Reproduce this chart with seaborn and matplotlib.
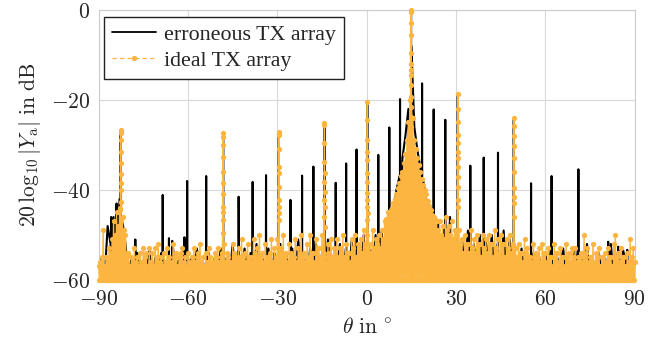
import numpy as np
import matplotlib
matplotlib.use("Agg")
import matplotlib.pyplot as plt
import seaborn as sns
from matplotlib.ticker import FixedLocator, FixedFormatter

# ---------------- data ----------------
# ideal TX array: local side-lobe maxima, every 0.5 deg from -90 to 90
ideal_floor_db = [
    -57, -56, -55, -49, -57, -55, -56, -53, -54, -51, -47, -50, -45, -48, -44, -47, -46, -49, -50, -54,
    -54, -57, -55, -56, -53, -56, -55, -57, -54, -56, -53, -55, -54, -57, -53, -56, -54, -57, -53, -55,
    -52, -56, -55, -57, -54, -56, -53, -55, -56, -57, -52, -55, -54, -57, -55, -54, -53, -56, -55, -57,
    -54, -56, -57, -55, -53, -56, -55, -54, -52, -56, -55, -57, -54, -56, -53, -55, -56, -57, -54, -55,
    -53, -56, -55, -54, -52, -56, -54, -55, -56, -57, -52, -54, -55, -56, -53, -55, -51, -55, -54, -56,
    -52, -55, -55, -56, -51, -54, -53, -55, -50, -55, -54, -56, -52, -55, -55, -54, -51, -56, -53, -55,
    -51, -55, -53, -54, -50, -55, -54, -56, -52, -54, -55, -55, -51, -56, -53, -54, -50, -55, -54, -56,
    -52, -55, -50, -54, -54, -56, -51, -53, -53, -55, -50, -54, -55, -56, -52, -54, -51, -55, -53, -54,
    -51, -55, -53, -54, -50, -55, -52, -54, -54, -56, -51, -53, -50, -55, -52, -53, -51, -54, -49, -52,
    -50, -53, -52, -54, -49, -53, -51, -52, -50, -53, -49, -51, -47, -46.5, -45, -46, -44.5, -44, -43, -42,
    -41, -39.5, -38.5, -37, -36, -34, -32, -29, -25, -20, -12, -24, -29, -31, -33, -34.5, -36, -37.5, -39, -40,
    -41, -42.5, -43.5, -44.5, -45.5, -46, -46.5, -47, -49, -47, -50, -48, -51, -46, -49, -48, -50, -47, -51, -49,
    -50, -53, -49, -52, -51, -54, -50, -52, -52, -54, -49, -53, -51, -54, -50, -52, -52, -55, -50, -53,
    -51, -54, -50, -52, -52, -55, -49, -53, -51, -54, -50, -52, -52, -55, -51, -53, -50, -54, -52, -53,
    -53, -55, -52, -54, -54, -56, -51, -54, -53, -55, -55, -56, -52, -55, -54, -55, -53, -56, -52, -54,
    -54, -56, -53, -55, -55, -57, -52, -54, -54, -56, -53, -55, -55, -57, -52, -55, -54, -56, -53, -55,
    -53, -56, -55, -55, -54, -56, -50, -54, -53, -56, -55, -55, -52, -56, -54, -55, -53, -57, -55, -55,
    -54, -56, -53, -55, -55, -57, -52, -50, -55, -54, -56, -53, -55, -55, -57, -54, -56, -51, -55, -53,
    -56,
]
ideal_floor_theta = np.linspace(-90, 90, len(ideal_floor_db))

# ideal TX array: nulls between the side lobes (-89.75 .. 89.75 deg); they all fall
# below the -60 dB floor of the axis, so they are read as -60 dB
ideal_null_db = [
    -60, -60, -60, -60, -60, -60, -60, -60, -60, -60, -60, -60, -60, -60, -60, -60, -60, -60, -60, -60,
    -60, -60, -60, -60, -60, -60, -60, -60, -60, -60, -60, -60, -60, -60, -60, -60, -60, -60, -60, -60,
    -60, -60, -60, -60, -60, -60, -60, -60, -60, -60, -60, -60, -60, -60, -60, -60, -60, -60, -60, -60,
    -60, -60, -60, -60, -60, -60, -60, -60, -60, -60, -60, -60, -60, -60, -60, -60, -60, -60, -60, -60,
    -60, -60, -60, -60, -60, -60, -60, -60, -60, -60, -60, -60, -60, -60, -60, -60, -60, -60, -60, -60,
    -60, -60, -60, -60, -60, -60, -60, -60, -60, -60, -60, -60, -60, -60, -60, -60, -60, -60, -60, -60,
    -60, -60, -60, -60, -60, -60, -60, -60, -60, -60, -60, -60, -60, -60, -60, -60, -60, -60, -60, -60,
    -60, -60, -60, -60, -60, -60, -60, -60, -60, -60, -60, -60, -60, -60, -60, -60, -60, -60, -60, -60,
    -60, -60, -60, -60, -60, -60, -60, -60, -60, -60, -60, -60, -60, -60, -60, -60, -60, -60, -60, -60,
    -60, -60, -60, -60, -60, -60, -60, -60, -60, -60, -60, -60, -60, -60, -60, -60, -60, -60, -60, -60,
    -60, -60, -60, -60, -60, -60, -60, -60, -60, -60, -60, -60, -60, -60, -60, -60, -60, -60, -60, -60,
    -60, -60, -60, -60, -60, -60, -60, -60, -60, -60, -60, -60, -60, -60, -60, -60, -60, -60, -60, -60,
    -60, -60, -60, -60, -60, -60, -60, -60, -60, -60, -60, -60, -60, -60, -60, -60, -60, -60, -60, -60,
    -60, -60, -60, -60, -60, -60, -60, -60, -60, -60, -60, -60, -60, -60, -60, -60, -60, -60, -60, -60,
    -60, -60, -60, -60, -60, -60, -60, -60, -60, -60, -60, -60, -60, -60, -60, -60, -60, -60, -60, -60,
    -60, -60, -60, -60, -60, -60, -60, -60, -60, -60, -60, -60, -60, -60, -60, -60, -60, -60, -60, -60,
    -60, -60, -60, -60, -60, -60, -60, -60, -60, -60, -60, -60, -60, -60, -60, -60, -60, -60, -60, -60,
    -60, -60, -60, -60, -60, -60, -60, -60, -60, -60, -60, -60, -60, -60, -60, -60, -60, -60, -60, -60,
]
ideal_null_theta = np.linspace(-89.75, 89.75, len(ideal_null_db))

# ideal TX array: lobes (peak angle, samples along the spike from top down)
ideal_peak_theta = [-82.6, -48.2, -29.5, -14.2, 0.2, 14.9, 30.6, 49.4]
ideal_spike_db = [
    [-26.7, -27.3, -29.0, -31.5, -34.0, -36.5, -38.4, -40.0, -42.7, -44.4],
    [-27.4, -28.2, -30.0, -32.7, -36.0, -38.5, -41.0, -43.8, -45.0, -46.7, -49.6],
    [-27.1, -27.8, -31.0, -34.9, -36.2, -39.3, -42.2, -43.8, -45.1, -46.7],
    [-25.2, -25.6, -29.5, -33.7, -36.2, -38.2, -40.4, -42.2, -43.8, -46.0, -48.2],
    [-20.5, -24.5, -28.9, -31.5, -33.3, -36.2, -38.2, -40.7, -42.2, -43.8, -45.1, -46.7],
    [0.0, -0.4, -3.0, -5.6, -9.5, -13.3, -14.4, -16.7, -19.3, -21.5, -23.7, -25.9],
    [-18.7, -22.0, -25.0, -27.8, -29.6, -31.6, -32.9, -34.9, -37.1, -39.3, -42.2, -43.8],
    [-23.9, -25.8, -28.0, -30.2, -33.0, -36.1, -39.6, -41.5, -43.0, -46.0],
]

# erroneous TX array: floor sampled every 1 deg from -90 to 90
err_floor_db = [
    -58, -55, -60, -48, -52, -46, -44, -42, -47, -52,
    -60, -55, -59, -54, -60, -56, -58, -53, -60, -55,
    -58, -54, -60, -56, -59, -53, -60, -55, -58, -54,
    -60, -55, -58, -53, -60, -56, -59, -54, -60, -55,
    -58, -53, -60, -55, -59, -52, -60, -54, -58, -53,
    -60, -54, -59, -52, -60, -55, -58, -53, -60, -54,
    -58, -52, -60, -54, -59, -53, -60, -51, -58, -55,
    -60, -53, -59, -52, -60, -54, -58, -51, -60, -55,
    -58, -52, -60, -53, -59, -51, -60, -54, -58, -50,
    -60, -52, -58, -50, -60, -49, -57, -47, -59, -45,
    -40, -37, -33, -28, -22, -8, -26, -31, -35, -38,
    -42, -44, -46, -58, -47, -60, -48, -59, -46, -60,
    -50, -60, -51, -58, -49, -60, -52, -59, -50, -60,
    -51, -58, -50, -60, -52, -59, -49, -60, -51, -58,
    -55, -60, -53, -59, -56, -60, -54, -58, -55, -60,
    -54, -59, -52, -60, -55, -58, -53, -60, -56, -59,
    -53, -60, -55, -58, -52, -60, -56, -59, -54, -60,
    -55, -58, -52, -60, -54, -59, -53, -56, -60, -57,
    -59,
]
err_floor_theta = np.linspace(-90, 90, len(err_floor_db))

# erroneous TX array: spurious lobes (angle, peak level) and their base level
err_spike_theta = [-85.8, -84.0, -82.6, -77.7, -68.5, -66.4, -65.3, -61.2, -60.3, -53.9,
                   -48.2, -43.0, -38.3, -33.8, -29.5, -25.6, -21.7, -17.9, -14.2, -10.4,
                   -6.9, -3.4, 0.2, 3.9, 7.6, 11.2, 14.9, 18.6, 22.5, 26.4,
                   30.6, 34.8, 39.3, 44.1, 49.4, 55.2, 62.1, 71.1, 81.1, 84.5, 87.5]
err_spike_db = [-46, -43, -27, -51, -41.1, -50.7, -51.3, -50.5, -38, -36.9,
                -27.6, -41.5, -38.2, -36.7, -27.4, -42.2, -36.8, -34.8, -25.5, -38.4,
                -34.1, -31, -20.8, -32.2, -26.1, -19.8, 0, -16.3, -22.1, -24.4,
                -19, -34.6, -32.8, -31.7, -24.3, -38.5, -36.9, -35.4, -51.5, -52.6, -53.3]
err_spike_base = -58

x_ticks = [-90, -60, -30, 0, 30, 60, 90]
x_tick_labels = [r"$-90$", r"$-60$", r"$-30$", r"$0$", r"$30$", r"$60$", r"$90$"]
y_ticks = [-60, -40, -20, 0]
y_tick_labels = [r"$-60$", r"$-40$", r"$-20$", r"$0$"]

# ---------------- assemble sorted series ----------------
def spike_samples(p, vals, dx):
    xs, ys = [p], [vals[0]]
    for k, v in enumerate(vals[1:], start=1):
        side = -1 if k % 2 else 1
        xs.append(p + side * dx * k)
        ys.append(v)
    return xs, ys

ix = list(ideal_floor_theta) + list(ideal_null_theta)
iy = list(ideal_floor_db) + list(ideal_null_db)
for p, vals in zip(ideal_peak_theta, ideal_spike_db):
    xs, ys = spike_samples(p, vals, 0.009)
    ix += xs
    iy += ys
ix = np.array(ix); iy = np.array(iy)
o = np.argsort(ix, kind="stable")
ix, iy = ix[o], iy[o]

ex = list(err_floor_theta)
ey = list(err_floor_db)
for p, v in zip(err_spike_theta, err_spike_db):
    ex += [p - 0.05, p, p + 0.05]
    ey += [err_spike_base, v, err_spike_base]
ex = np.array(ex); ey = np.array(ey)
o = np.argsort(ex, kind="stable")
ex, ey = ex[o], ey[o]

# ---------------- plotting ----------------
sns.set_style("white")
plt.rcParams["mathtext.fontset"] = "cm"
plt.rcParams["font.family"] = ["DejaVu Serif"]

ORANGE = "#FBB540"
GRID = "#d9d9d9"
DASH = (0, (3.5, 2.5))

fig, ax = plt.subplots(figsize=(6.65, 3.41), dpi=100)
fig.subplots_adjust(left=0.1484, right=0.9544, top=0.9707, bottom=0.1789)

sns.lineplot(x=ex, y=ey, ax=ax, color="black", lw=1.5, estimator=None, sort=False,
             label="erroneous TX array", zorder=2)
# the dense dashed trace renders as a solid band, so the data are drawn solid
sns.lineplot(x=ix, y=iy, ax=ax, color=ORANGE, lw=1.0,
             marker="o", markersize=3.8, markeredgewidth=0, markeredgecolor=ORANGE,
             estimator=None, sort=False, label="ideal TX array", zorder=3, clip_on=False)

ax.set_xlim(-90, 90)
ax.set_ylim(-60, 0)
ax.xaxis.set_major_locator(FixedLocator(x_ticks))
ax.xaxis.set_major_formatter(FixedFormatter(x_tick_labels))
ax.yaxis.set_major_locator(FixedLocator(y_ticks))
ax.yaxis.set_major_formatter(FixedFormatter(y_tick_labels))
ax.tick_params(axis="both", length=0, pad=6, labelsize=15.5)

ax.grid(True, color=GRID, lw=0.8)
ax.set_axisbelow(True)
for s in ax.spines.values():
    s.set_color("#cccccc")
    s.set_linewidth(0.8)

ax.set_xlabel(r"$\theta\ \mathrm{in}\ ^{\circ}$", fontsize=15.5, labelpad=4)
ax.set_ylabel(r"$20\,\log_{10}|Y_{\mathrm{a}}|\ \mathrm{in\ dB}$", fontsize=15.5, labelpad=6)

leg = ax.legend(loc="upper left", bbox_to_anchor=(0.0099, 0.974), borderaxespad=0,
                frameon=True, fancybox=False, edgecolor="#222222", framealpha=1,
                prop={"family": "Liberation Serif", "size": 15.8},
                handlelength=2.0, handletextpad=0.4, borderpad=0.35, labelspacing=0.25)
leg.get_frame().set_linewidth(1.0)
leg.set_zorder(10)
for h in leg.get_lines():
    if h.get_color() == ORANGE:
        h.set_linestyle(DASH)
        h.set_linewidth(0.9)
    else:
        h.set_linewidth(1.3)

fig.savefig("out.png", dpi=100, facecolor="white")
